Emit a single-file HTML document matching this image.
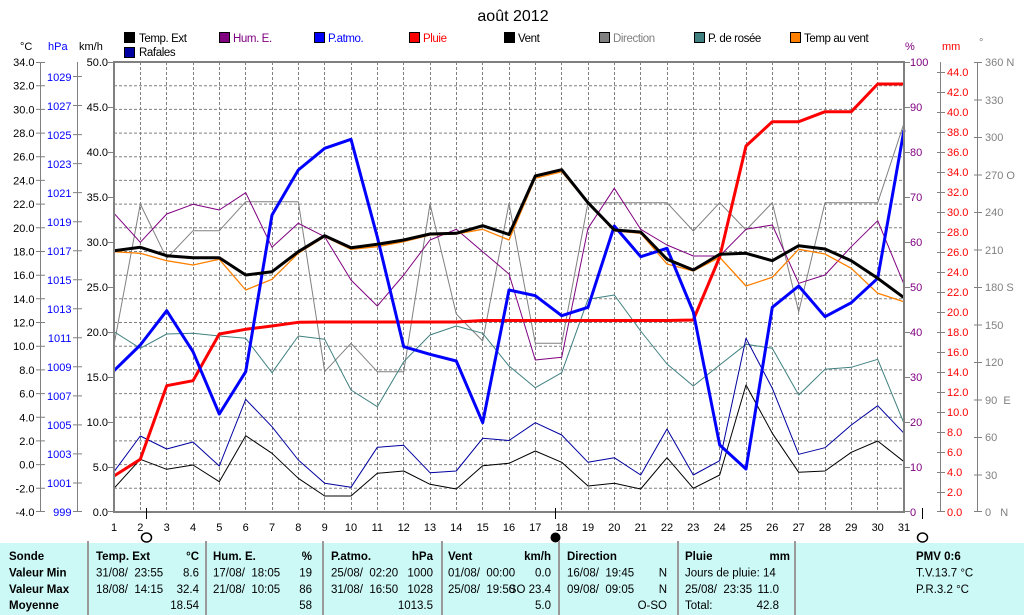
<!DOCTYPE html>
<html><head><meta charset="utf-8">
<style>
html,body{margin:0;padding:0;background:#fff;}
svg{display:block;}
text{font-family:"Liberation Sans",sans-serif;white-space:pre;}
.ax{font-size:11px;}
.lg{font-size:11.5px;letter-spacing:-0.4px;}
.tb{font-size:11.5px;}
.b{font-weight:bold;}
</style></head>
<body>
<svg width="1024" height="615" viewBox="0 0 1024 615" xmlns="http://www.w3.org/2000/svg">
<rect x="0" y="0" width="1024" height="615" fill="#fff"/>

<!-- title -->
<text x="513" y="21" font-size="16" text-anchor="middle">août 2012</text>

<!-- legend -->
<g class="lg">
<rect x="124.5" y="32.5" width="10" height="10" fill="#000" stroke="#000"/><text x="139" y="42">Temp. Ext</text>
<rect x="219.5" y="32.5" width="10" height="10" fill="#800080" stroke="#000"/><text x="233" y="42" fill="#800080">Hum. E.</text>
<rect x="314.5" y="32.5" width="10" height="10" fill="#0000ff" stroke="#000"/><text x="328" y="42" fill="#0000ff">P.atmo.</text>
<rect x="409.5" y="32.5" width="10" height="10" fill="#ff0000" stroke="#000"/><text x="423" y="42" fill="#ff0000">Pluie</text>
<rect x="504.5" y="32.5" width="10" height="10" fill="#000" stroke="#000"/><text x="518" y="42">Vent</text>
<rect x="599.5" y="32.5" width="10" height="10" fill="#808080" stroke="#000"/><text x="613" y="42" fill="#808080">Direction</text>
<rect x="694.5" y="32.5" width="10" height="10" fill="#408080" stroke="#000"/><text x="708" y="42">P. de rosée</text>
<rect x="790.5" y="32.5" width="10" height="10" fill="#ff8000" stroke="#000"/><text x="804" y="42">Temp au vent</text>
<rect x="124.5" y="47.5" width="10" height="10" fill="#0000a0" stroke="#000"/><text x="139" y="56">Rafales</text>
</g>

<!-- units -->
<g class="ax">
<text x="20" y="50">°C</text>
<text x="48" y="50" fill="#0000ff">hPa</text>
<text x="79" y="50">km/h</text>
<text x="905" y="50" fill="#800080">%</text>
<text x="942" y="50" fill="#ff0000">mm</text>
<text x="979" y="46" fill="#808080">°</text>
</g>

<!-- grid -->
<g stroke="#808080" stroke-width="1" stroke-dasharray="3,2" fill="none">
<path d="M114 85.7H904M114 109.4H904M114 133.1H904M114 156.7H904M114 180.4H904M114 204.1H904M114 227.8H904M114 251.5H904M114 275.2H904M114 298.8H904M114 322.5H904M114 346.2H904M114 369.9H904M114 393.6H904M114 417.3H904M114 440.9H904M114 464.6H904M114 488.3H904"/>
<path d="M140.5 62V512M166.5 62V512M193.5 62V512M219.5 62V512M245.5 62V512M272.5 62V512M298.5 62V512M324.5 62V512M351.5 62V512M377.5 62V512M403.5 62V512M430.5 62V512M456.5 62V512M482.5 62V512M509.5 62V512M535.5 62V512M561.5 62V512M588.5 62V512M614.5 62V512M640.5 62V512M667.5 62V512M693.5 62V512M719.5 62V512M746.5 62V512M772.5 62V512M798.5 62V512M825.5 62V512M851.5 62V512M877.5 62V512"/>
</g>

<!-- series -->
<g fill="none" stroke-linejoin="round">
<polyline stroke="#808080" stroke-width="1" points="114,345 140.3,204 166.7,258.3 193,230.7 219.3,230.7 245.7,201.7 272,201.7 298.3,201.7 324.7,371.7 351,343.3 377.3,371.7 403.7,371.7 430,204 456.3,314 482.7,341 509,203.3 535.3,343.3 561.7,343.3 588,202.7 614.3,202.7 640.7,202.7 667,202.7 693.3,231 719.7,202.7 746,230 772.3,202.7 798.7,311.7 825,202.7 851.3,202.7 877.7,202.7 904,123.3"/>
<polyline stroke="#408080" stroke-width="1" points="114,331.7 140.3,348.3 166.7,334 193,333.3 219.3,336 245.7,338.3 272,372.7 298.3,336 324.7,339.3 351,390 377.3,406.7 403.7,361.7 430,335 456.3,326 482.7,333.3 509,366 535.3,387.7 561.7,372.7 588,299.3 614.3,295 640.7,331 667,364 693.3,386 719.7,365 746,344.3 772.3,348.3 798.7,395 825,369.3 851.3,367.3 877.7,359.3 904,423.3"/>
<polyline stroke="#800080" stroke-width="1" points="114,213.3 140.3,242.3 166.7,214 193,204.3 219.3,210 245.7,192.7 272,247.3 298.3,223.3 324.7,236.7 351,280 377.3,306 403.7,275 430,240 456.3,229.3 482.7,251.7 509,274 535.3,360 561.7,357.3 588,228.3 614.3,188.3 640.7,229.3 667,245 693.3,256 719.7,256 746,229.3 772.3,225 798.7,283.3 825,275 851.3,246.7 877.7,220.7 904,284.3"/>
<polyline stroke="#0000a0" stroke-width="1" points="114,471.7 140.3,436 166.7,449 193,442 219.3,466 245.7,399.3 272,426.7 298.3,460 324.7,483.3 351,487.3 377.3,447.3 403.7,445.3 430,472.7 456.3,471 482.7,438.3 509,440.5 535.3,422.7 561.7,435 588,462.3 614.3,457.7 640.7,475 667,429 693.3,475 719.7,460.7 746,338.3 772.3,388.3 798.7,454.3 825,447.7 851.3,425 877.7,405.7 904,433.3"/>
<polyline stroke="#000" stroke-width="1" points="114,488.3 140.3,459.3 166.7,469.3 193,465 219.3,481.7 245.7,435.7 272,453.3 298.3,478.3 324.7,496 351,496 377.3,473.3 403.7,471 430,484.3 456.3,489 482.7,465.7 509,463.3 535.3,451 561.7,462.3 588,486 614.3,483.3 640.7,489 667,457.7 693.3,488.3 719.7,475 746,385 772.3,433.3 798.7,472.3 825,471 851.3,452.3 877.7,441 904,461.7"/>
<polyline stroke="#ff8000" stroke-width="1.3" points="114,251.7 140.3,253.3 166.7,260.7 193,265 219.3,259.3 245.7,290 272,279.3 298.3,253.3 324.7,236.7 351,249.3 377.3,246.7 403.7,241.7 430,235 456.3,234 482.7,229.3 509,240 535.3,178.3 561.7,171.7 588,203.3 614.3,231 640.7,233.3 667,264 693.3,271 719.7,257.3 746,286 772.3,277.3 798.7,249.3 825,254 851.3,268.3 877.7,293.3 904,301.7"/>
<polyline stroke="#ff0000" stroke-width="3" points="114,476 140.3,459.3 166.7,385.7 193,380.7 219.3,334 245.7,329.3 272,326 298.3,322.3 324.7,322 351,322 377.3,322 403.7,322 430,322 456.3,322 482.7,320.5 509,320.5 535.3,320.5 561.7,320.5 588,320.5 614.3,320.5 640.7,320.5 667,320.5 693.3,320 719.7,257 746,146 772.3,121.7 798.7,121.7 825,111.7 851.3,111.7 877.7,84 904,84"/>
<polyline stroke="#0000ff" stroke-width="3" points="114,370.7 140.3,345 166.7,310.7 193,351.7 219.3,414 245.7,371.7 272,215 298.3,170 324.7,148.3 351,139.3 377.3,237 403.7,346.7 430,354.3 456.3,361 482.7,422.7 509,290 535.3,295.7 561.7,315.7 588,307.3 614.3,226 640.7,256.7 667,248.3 693.3,312 719.7,445 746,469 772.3,307.3 798.7,286 825,316.7 851.3,302.7 877.7,278.3 904,130"/>
<polyline stroke="#000" stroke-width="3" points="114,250.7 140.3,247.3 166.7,255.7 193,257.7 219.3,257.7 245.7,275 272,271.7 298.3,251.7 324.7,235.7 351,247.7 377.3,244.3 403.7,240 430,234 456.3,233.3 482.7,225.7 509,234.5 535.3,176 561.7,169.7 588,202.7 614.3,230 640.7,232 667,259.3 693.3,270 719.7,254.3 746,253.3 772.3,260.7 798.7,245.7 825,249 851.3,260.7 877.7,278.3 904,297.7"/>
</g>

<!-- plot border -->
<rect x="114" y="62" width="790" height="450" fill="none" stroke="#808080" stroke-width="2"/>

<!-- axes -->
<g stroke="#808080" stroke-width="1" fill="none">
<path d="M40.5 62V512M77.5 62V512M940.5 62V512M977.5 62V512"/>
<path d="M36 62.5H45M36 85.7H45M36 109.4H45M36 133.1H45M36 156.7H45M36 180.4H45M36 204.1H45M36 227.8H45M36 251.5H45M36 275.2H45M36 298.8H45M36 322.5H45M36 346.2H45M36 369.9H45M36 393.6H45M36 417.3H45M36 440.9H45M36 464.6H45M36 488.3H45M36 511.5H45"/>
<path d="M73 76.5H82M73 105.5H82M73 134.6H82M73 163.6H82M73 192.6H82M73 221.7H82M73 250.7H82M73 279.7H82M73 308.8H82M73 337.8H82M73 366.8H82M73 395.9H82M73 424.9H82M73 453.9H82M73 483H82M73 511.5H82"/>
<path d="M108 62.5H114M108 107.5H114M108 152.5H114M108 197.5H114M108 242.5H114M108 287.5H114M108 332.5H114M108 377.5H114M108 422.5H114M108 467.5H114M108 511.5H114"/>
<path d="M904 62.5H910M904 107.5H910M904 152.5H910M904 197.5H910M904 242.5H910M904 287.5H910M904 332.5H910M904 377.5H910M904 422.5H910M904 467.5H910M904 511.5H910"/>
<path d="M937 72.5H945M937 92.5H945M937 112.5H945M937 132.5H945M937 152.5H945M937 172.5H945M937 192.5H945M937 212.5H945M937 232.5H945M937 252.5H945M937 272.5H945M937 292.5H945M937 312.5H945M937 332.5H945M937 352.5H945M937 372.5H945M937 392.5H945M937 412.5H945M937 432.5H945M937 452.5H945M937 472.5H945M937 492.5H945M937 511.5H945"/>
<path d="M974 62.5H982M974 100H982M974 137.5H982M974 175H982M974 212.5H982M974 250H982M974 287.5H982M974 325H982M974 362.5H982M974 400H982M974 437.5H982M974 475H982M974 511.5H982"/>
</g>

<g class="ax" text-anchor="end">
<text x="34.5" y="66">34.0</text><text x="34.5" y="89.7">32.0</text><text x="34.5" y="113.4">30.0</text><text x="34.5" y="137.1">28.0</text><text x="34.5" y="160.7">26.0</text><text x="34.5" y="184.4">24.0</text><text x="34.5" y="208.1">22.0</text><text x="34.5" y="231.8">20.0</text><text x="34.5" y="255.5">18.0</text><text x="34.5" y="279.2">16.0</text><text x="34.5" y="302.8">14.0</text><text x="34.5" y="326.5">12.0</text><text x="34.5" y="350.2">10.0</text><text x="34.5" y="373.9">8.0</text><text x="34.5" y="397.6">6.0</text><text x="34.5" y="421.3">4.0</text><text x="34.5" y="444.9">2.0</text><text x="34.5" y="468.6">0.0</text><text x="34.5" y="492.3">-2.0</text><text x="34.5" y="516">-4.0</text>
</g>
<g class="ax" text-anchor="end" fill="#0000ff">
<text x="71.5" y="81">1029</text><text x="71.5" y="110">1027</text><text x="71.5" y="139">1025</text><text x="71.5" y="168">1023</text><text x="71.5" y="197">1021</text><text x="71.5" y="226">1019</text><text x="71.5" y="255">1017</text><text x="71.5" y="284">1015</text><text x="71.5" y="313">1013</text><text x="71.5" y="342">1011</text><text x="71.5" y="371">1009</text><text x="71.5" y="400">1007</text><text x="71.5" y="429">1005</text><text x="71.5" y="458">1003</text><text x="71.5" y="487">1001</text><text x="71.5" y="516">999</text>
</g>
<g class="ax" text-anchor="end">
<text x="108" y="66">50.0</text><text x="108" y="111">45.0</text><text x="108" y="156">40.0</text><text x="108" y="201">35.0</text><text x="108" y="246">30.0</text><text x="108" y="291">25.0</text><text x="108" y="336">20.0</text><text x="108" y="381">15.0</text><text x="108" y="426">10.0</text><text x="108" y="471">5.0</text><text x="108" y="516">0.0</text>
</g>
<g class="ax" fill="#800080">
<text x="910" y="66">100</text><text x="910" y="111">90</text><text x="910" y="156">80</text><text x="910" y="201">70</text><text x="910" y="246">60</text><text x="910" y="291">50</text><text x="910" y="336">40</text><text x="910" y="381">30</text><text x="910" y="426">20</text><text x="910" y="471">10</text><text x="910" y="516">0</text>
</g>
<g class="ax" fill="#ff0000">
<text x="947" y="76">44.0</text><text x="947" y="96">42.0</text><text x="947" y="116">40.0</text><text x="947" y="136">38.0</text><text x="947" y="156">36.0</text><text x="947" y="176">34.0</text><text x="947" y="196">32.0</text><text x="947" y="216">30.0</text><text x="947" y="236">28.0</text><text x="947" y="256">26.0</text><text x="947" y="276">24.0</text><text x="947" y="296">22.0</text><text x="947" y="316">20.0</text><text x="947" y="336">18.0</text><text x="947" y="356">16.0</text><text x="947" y="376">14.0</text><text x="947" y="396">12.0</text><text x="947" y="416">10.0</text><text x="947" y="436">8.0</text><text x="947" y="456">6.0</text><text x="947" y="476">4.0</text><text x="947" y="496">2.0</text><text x="947" y="516">0.0</text>
</g>
<g class="ax" fill="#808080">
<text x="985" y="66">360 N</text><text x="985" y="104">330</text><text x="985" y="141">300</text><text x="985" y="179">270 O</text><text x="985" y="216">240</text><text x="985" y="254">210</text><text x="985" y="291">180 S</text><text x="985" y="329">150</text><text x="985" y="366">120</text><text x="985" y="404">90  E</text><text x="985" y="441">60</text><text x="985" y="479">30</text><text x="985" y="516">0   N</text>
</g>

<!-- day labels -->
<g class="ax" font-size="12" text-anchor="middle">
<text x="114" y="531">1</text><text x="140.3" y="531">2</text><text x="166.7" y="531">3</text><text x="193" y="531">4</text><text x="219.3" y="531">5</text><text x="245.7" y="531">6</text><text x="272" y="531">7</text><text x="298.3" y="531">8</text><text x="324.7" y="531">9</text><text x="351" y="531">10</text><text x="377.3" y="531">11</text><text x="403.7" y="531">12</text><text x="430" y="531">13</text><text x="456.3" y="531">14</text><text x="482.7" y="531">15</text><text x="509" y="531">16</text><text x="535.3" y="531">17</text><text x="561.7" y="531">18</text><text x="588" y="531">19</text><text x="614.3" y="531">20</text><text x="640.7" y="531">21</text><text x="667" y="531">22</text><text x="693.3" y="531">23</text><text x="719.7" y="531">24</text><text x="746" y="531">25</text><text x="772.3" y="531">26</text><text x="798.7" y="531">27</text><text x="825" y="531">28</text><text x="851.3" y="531">29</text><text x="877.7" y="531">30</text><text x="904" y="531">31</text>
</g>

<!-- moon phases -->
<g stroke="#000" stroke-width="1">
<path d="M146.5 508V519M555.5 508V519M922.5 508V519"/>
<ellipse cx="146.5" cy="537.5" rx="5" ry="4.5" fill="none" stroke-width="1.5"/>
<ellipse cx="555.5" cy="537.5" rx="4.5" ry="4.5" fill="#000"/>
<ellipse cx="922.5" cy="537.5" rx="5" ry="4.5" fill="none" stroke-width="1.5"/>
</g>

<!-- table -->
<rect x="0" y="543" width="1024" height="72" fill="#ccf8f6"/>
<g stroke="#9a9a9a" stroke-width="2">
<path d="M88 541V615M206 541V615M323 541V615M442 541V615M559 541V615M678 541V615M795 541V615"/>
</g>
<g class="tb">
<text class="b" x="9" y="560">Sonde</text>
<text class="b" x="9" y="576.5">Valeur Min</text>
<text class="b" x="9" y="593">Valeur Max</text>
<text class="b" x="9" y="609">Moyenne</text>

<text class="b" x="96" y="560">Temp. Ext</text><text class="b" x="199" y="560" text-anchor="end">°C</text>
<text x="96" y="576.5">31/08/  23:55</text><text x="199" y="576.5" text-anchor="end">8.6</text>
<text x="96" y="593">18/08/  14:15</text><text x="199" y="593" text-anchor="end">32.4</text>
<text x="199" y="609" text-anchor="end">18.54</text>

<text class="b" x="213" y="560">Hum. E.</text><text class="b" x="312" y="560" text-anchor="end">%</text>
<text x="213" y="576.5">17/08/  18:05</text><text x="312" y="576.5" text-anchor="end">19</text>
<text x="213" y="593">21/08/  10:05</text><text x="312" y="593" text-anchor="end">86</text>
<text x="312" y="609" text-anchor="end">58</text>

<text class="b" x="331" y="560">P.atmo.</text><text class="b" x="433" y="560" text-anchor="end">hPa</text>
<text x="331" y="576.5">25/08/  02:20</text><text x="433" y="576.5" text-anchor="end">1000</text>
<text x="331" y="593">31/08/  16:50</text><text x="433" y="593" text-anchor="end">1028</text>
<text x="433" y="609" text-anchor="end">1013.5</text>

<text class="b" x="448" y="560">Vent</text><text class="b" x="551" y="560" text-anchor="end">km/h</text>
<text x="448" y="576.5">01/08/  00:00</text><text x="551" y="576.5" text-anchor="end">0.0</text>
<text x="448" y="593">25/08/  19:50</text><text x="551" y="593" text-anchor="end">SO 23.4</text>
<text x="551" y="609" text-anchor="end">5.0</text>

<text class="b" x="567" y="560">Direction</text>
<text x="567" y="576.5">16/08/  19:45</text><text x="667" y="576.5" text-anchor="end">N</text>
<text x="567" y="593">09/08/  09:05</text><text x="667" y="593" text-anchor="end">N</text>
<text x="667" y="609" text-anchor="end">O-SO</text>

<text class="b" x="685" y="560">Pluie</text><text class="b" x="790" y="560" text-anchor="end">mm</text>
<text x="685" y="576.5">Jours de pluie: 14</text>
<text x="685" y="593">25/08/  23:35</text><text x="779" y="593" text-anchor="end">11.0</text>
<text x="685" y="609">Total:</text><text x="779" y="609" text-anchor="end">42.8</text>

<text class="b" x="916" y="560">PMV 0:6</text>
<text x="916" y="576.5">T.V.13.7 °C</text>
<text x="916" y="593">P.R.3.2 °C</text>
</g>
</svg>
</body></html>
